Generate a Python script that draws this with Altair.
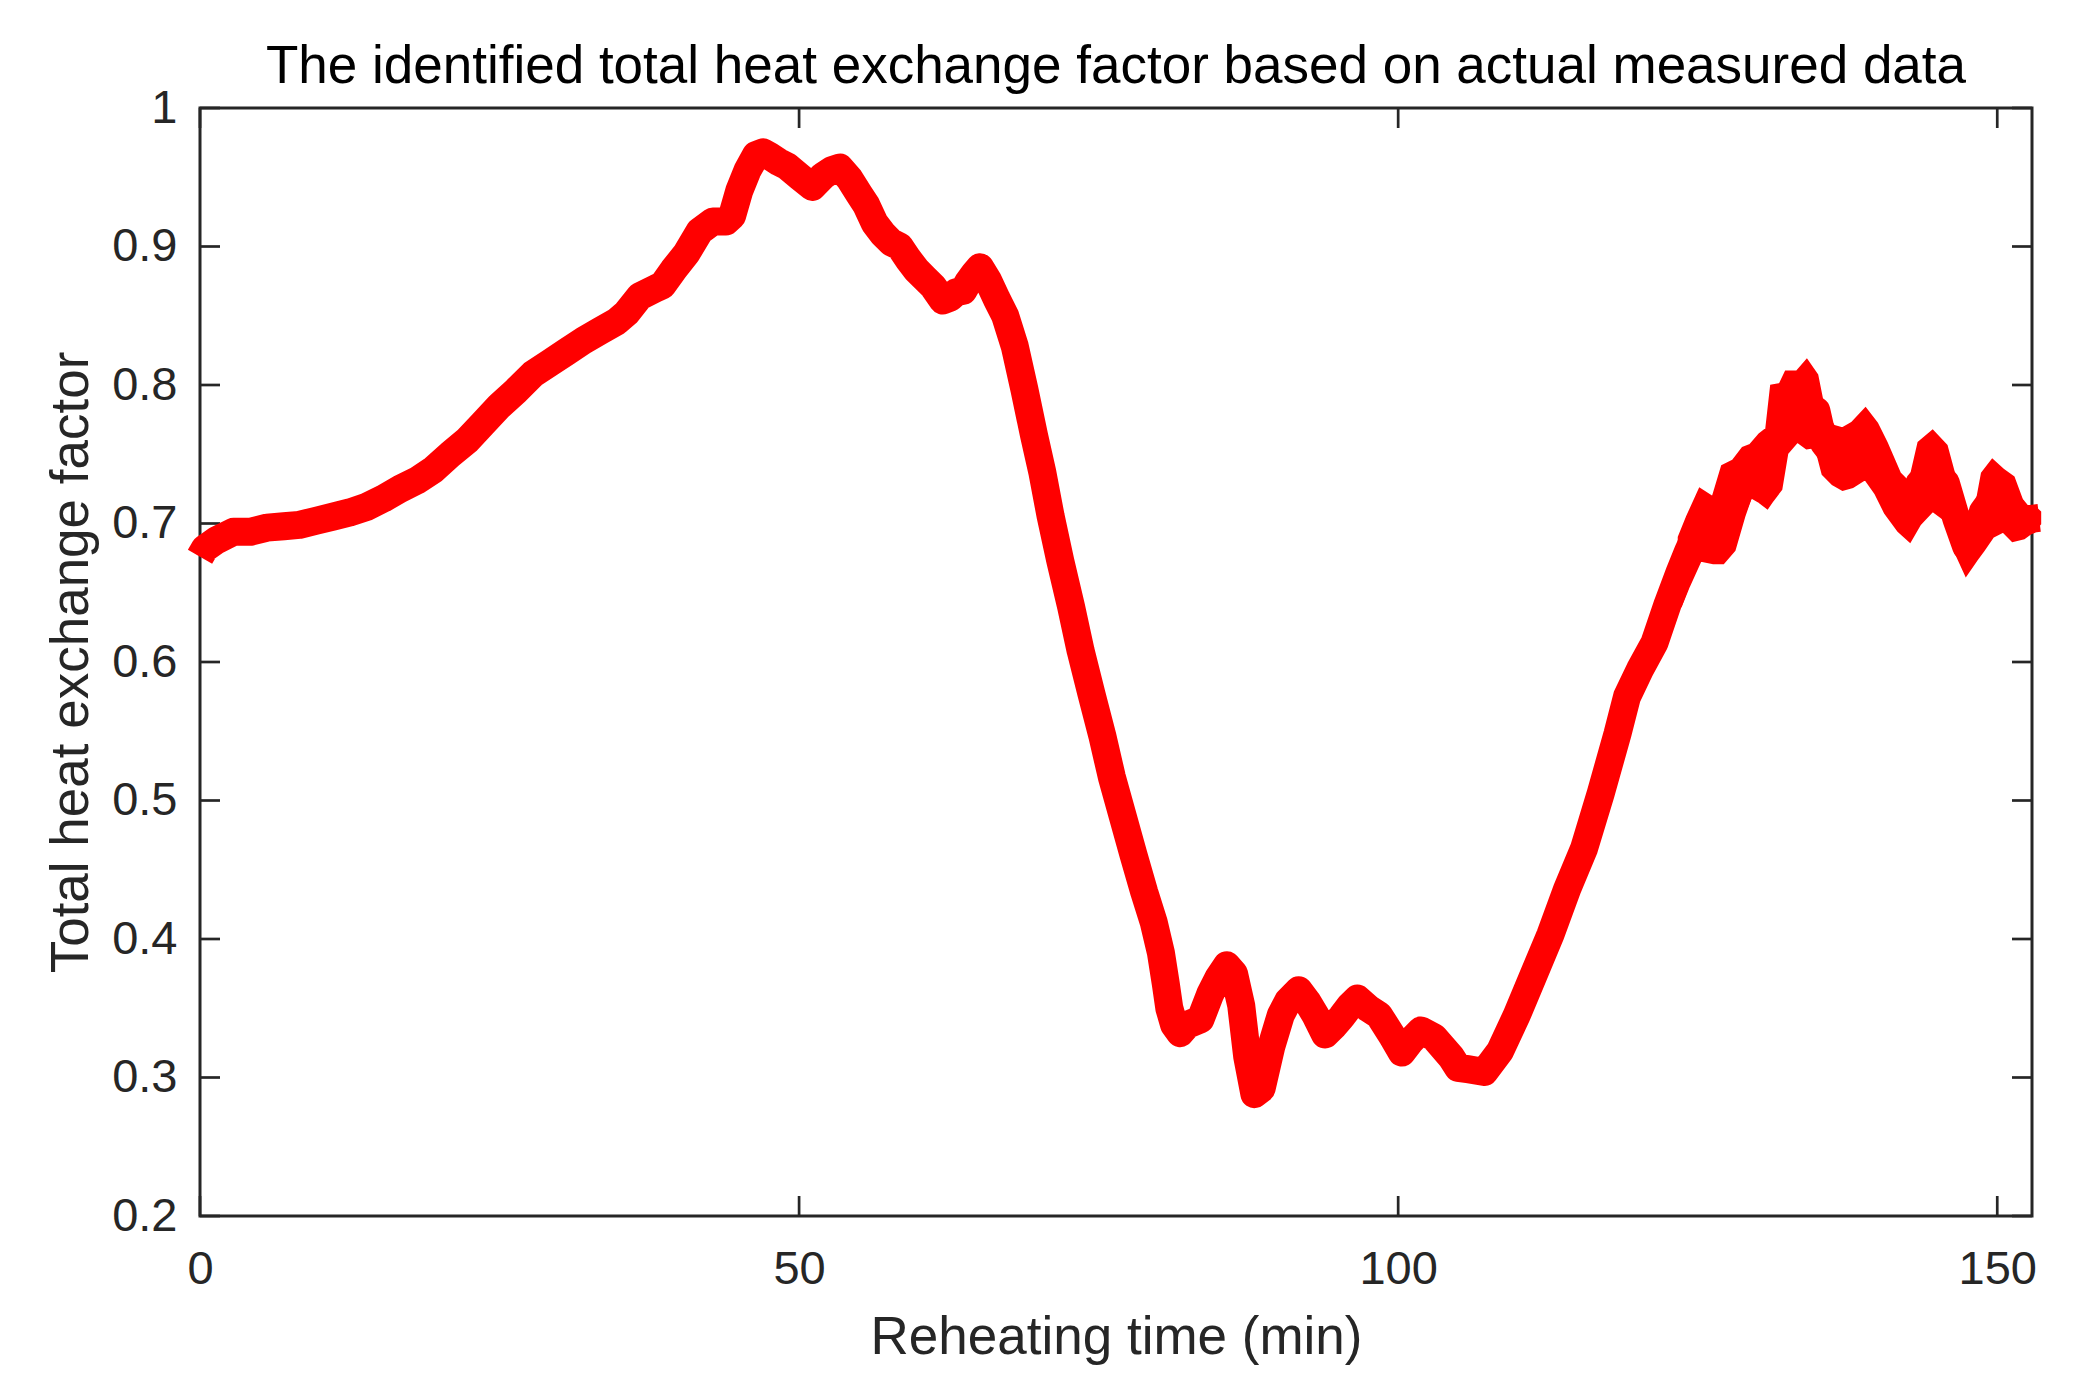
import altair as alt
import pandas as pd

# ---- data ----
t_line = [0.0, 0.4, 1.4, 2.8, 4.2, 5.6, 7.0, 8.3, 9.7, 11.1, 12.5, 13.9, 15.3, 16.7, 18.1,
          19.5, 20.9, 22.3, 23.6, 25.0, 26.4, 27.8, 29.2, 30.6, 32.0, 33.4, 34.8, 35.6, 36.7,
          38.1, 38.6, 39.5, 40.6, 41.7, 42.8, 43.9, 44.4, 45.0, 45.7, 46.4, 47.0, 47.6, 48.3,
          49.0, 50.1, 51.1, 52.0, 52.7, 53.4, 54.2, 55.0, 55.6, 56.3, 57.0, 57.7, 58.4, 59.1,
          59.8, 60.5, 61.2, 62.0, 62.6, 63.1, 63.7, 64.1, 64.6, 65.1, 65.8, 66.5, 67.2, 68.0,
          68.8, 69.6, 70.3, 71.0, 71.8, 72.7, 73.5, 74.4, 75.3, 76.1, 77.0, 77.9, 78.8, 79.6,
          80.2, 80.6, 80.9, 81.3, 81.8, 82.4, 83.5, 84.3, 85.0, 85.7, 86.3, 86.9, 87.4, 88.0,
          88.6, 89.4, 90.2, 90.8, 91.7, 92.4, 93.1, 93.9, 94.6, 95.3, 96.0, 96.6, 97.5, 98.4,
          99.5, 100.3, 101.0, 101.9, 103.0, 104.4, 105.0, 105.8, 107.2, 108.5, 109.9, 111.3,
          112.7, 114.1, 115.5, 116.9, 118.3, 119.1, 120.2, 121.4, 122.5, 123.5]
v_line = [0.676, 0.682, 0.688, 0.694, 0.694, 0.697, 0.698, 0.699, 0.702, 0.705, 0.708, 0.712,
          0.718, 0.725, 0.731, 0.739, 0.750, 0.760, 0.772, 0.785, 0.796, 0.808, 0.816, 0.824,
          0.832, 0.839, 0.846, 0.852, 0.864, 0.870, 0.872, 0.883, 0.895, 0.911, 0.918, 0.918,
          0.922, 0.940, 0.955, 0.966, 0.968, 0.965, 0.961, 0.958, 0.950, 0.943, 0.951, 0.955,
          0.957, 0.949, 0.938, 0.930, 0.917, 0.909, 0.903, 0.900, 0.891, 0.883, 0.877, 0.871,
          0.861, 0.863, 0.867, 0.868, 0.874, 0.880, 0.885, 0.875, 0.862, 0.850, 0.828, 0.797,
          0.764, 0.737, 0.705, 0.673, 0.640, 0.608, 0.577, 0.547, 0.517, 0.489, 0.461, 0.434,
          0.412, 0.390, 0.368, 0.350, 0.338, 0.332, 0.338, 0.342, 0.360, 0.372, 0.381, 0.375,
          0.352, 0.315, 0.288, 0.292, 0.322, 0.345, 0.355, 0.363, 0.355, 0.345, 0.331, 0.337,
          0.344, 0.352, 0.357, 0.350, 0.345, 0.330, 0.318, 0.326, 0.334, 0.329, 0.315, 0.307,
          0.306, 0.304, 0.319, 0.345, 0.374, 0.403, 0.436, 0.465, 0.505, 0.548, 0.575, 0.595,
          0.614, 0.642, 0.665]

# noisy tail: upper and lower edge of the red band
t_band = [123.5, 124.2, 125.2, 126.3, 127.1, 128.0, 128.8, 129.4, 130.2, 130.8, 131.2, 131.9,
          132.4, 133.3, 134.1, 134.9, 135.5, 136.3, 137.1, 137.9, 139.0, 139.9, 140.7, 141.8,
          142.7, 143.5, 144.6, 145.7, 146.6, 147.4, 148.2, 148.8, 149.6, 150.5, 151.3, 152.2,
          153.0, 153.5]
band_top = [0.690, 0.705, 0.724, 0.718, 0.741, 0.745, 0.754, 0.756, 0.764, 0.768, 0.799, 0.800,
            0.809, 0.809, 0.817, 0.807, 0.781, 0.770, 0.768, 0.772, 0.782, 0.772, 0.758, 0.736,
            0.728, 0.758, 0.766, 0.756, 0.727, 0.703, 0.708, 0.736, 0.745, 0.738, 0.733, 0.712,
            0.712, 0.708]
band_bottom = [0.640, 0.655, 0.674, 0.672, 0.672, 0.681, 0.705, 0.720, 0.716, 0.712, 0.717, 0.725,
               0.751, 0.760, 0.755, 0.756, 0.736, 0.729, 0.725, 0.727, 0.733, 0.722, 0.708, 0.695,
               0.688, 0.700, 0.710, 0.703, 0.679, 0.664, 0.674, 0.681, 0.691, 0.695, 0.688, 0.690,
               0.695, 0.700]

x_ticks = [0, 50, 100, 150]
y_ticks = [0.2, 0.3, 0.4, 0.5, 0.6, 0.7, 0.8, 0.9, 1.0]

title_text = "The identified total heat exchange factor based on actual measured data"
x_title = "Reheating time (min)"
y_title = "Total heat exchange factor"

# ---- build ----
W, H = 1832, 1108
TICK = 20
AX = "#262626"
RED = "#ff0000"
FONT = "Liberation Sans"

t_all = t_line + t_band[1:]
v_all = v_line + [(a + b) / 2 for a, b in zip(band_top[1:], band_bottom[1:])]
line_df = pd.DataFrame({"t": t_all, "v": v_all})
band_df = pd.DataFrame({"t": t_band, "top": band_top, "bottom": band_bottom})
xt_df = pd.DataFrame({"t": x_ticks})
yt_df = pd.DataFrame({"v": y_ticks})

xscale = alt.Scale(domain=[0, 152.9], nice=False, zero=False)
yscale = alt.Scale(domain=[0.2, 1.0], nice=False, zero=False)

x_axis = alt.Axis(values=x_ticks, title=x_title, ticks=False, domain=False, grid=False,
                  labelFont=FONT, labelFontSize=47, labelColor=AX, labelPadding=30,
                  titleFont=FONT, titleFontSize=53, titleColor=AX, titleFontWeight="normal",
                  titlePadding=19, labelFlush=False)
y_axis = alt.Axis(values=y_ticks, title=y_title, ticks=False, domain=False, grid=False,
                  format=".1~f",
                  labelFont=FONT, labelFontSize=47, labelColor=AX, labelPadding=23,
                  titleFont=FONT, titleFontSize=53, titleColor=AX, titleFontWeight="normal",
                  titlePadding=13, labelFlush=False)

X = alt.X("t:Q", scale=xscale, axis=x_axis)
Y = alt.Y("v:Q", scale=yscale, axis=y_axis)

ytick_left = alt.Chart(yt_df).mark_rule(color=AX, strokeWidth=2.7).encode(
    y=Y, x=alt.value(0), x2=alt.value(TICK))
ytick_right = alt.Chart(yt_df).mark_rule(color=AX, strokeWidth=2.7).encode(
    y=Y, x=alt.value(W - TICK), x2=alt.value(W))
xtick_bottom = alt.Chart(xt_df).mark_rule(color=AX, strokeWidth=2.7).encode(
    x=X, y=alt.value(H - TICK), y2=alt.value(H))
xtick_top = alt.Chart(xt_df).mark_rule(color=AX, strokeWidth=2.7).encode(
    x=X, y=alt.value(0), y2=alt.value(TICK))

line = alt.Chart(line_df).mark_line(color=RED, strokeWidth=28, strokeJoin="round",
                                     strokeCap="butt", clip=False).encode(
    x=X, y=Y, order="t:Q")
band = alt.Chart(band_df).mark_area(color=RED, fill=RED, stroke=RED,
                                    strokeWidth=4, clip=False, opacity=1).encode(
    x=X,
    y=alt.Y("top:Q", scale=yscale, axis=y_axis),
    y2="bottom:Q")

chart = alt.layer(ytick_left, ytick_right, xtick_bottom, xtick_top, line, band).properties(
    width=W, height=H,
    background="white",
    title=alt.TitleParams(text=title_text, font=FONT, fontSize=53, fontWeight="normal",
                          color="black", anchor="middle", offset=14, dy=24),
    autosize=alt.AutoSizeParams(type="none"),
    padding={"left": 192, "top": 100, "right": 49, "bottom": 150},
).configure_view(stroke=AX, strokeWidth=3)

chart.save("out.html", embed_options={"renderer": "svg", "actions": False})
